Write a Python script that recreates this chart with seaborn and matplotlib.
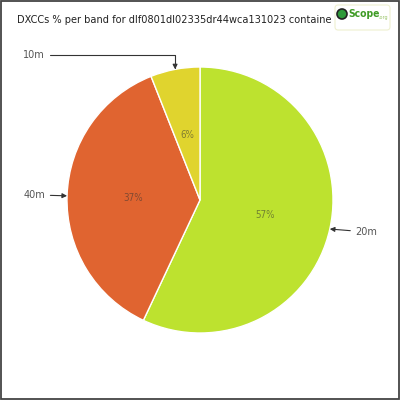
import numpy as np
import matplotlib
matplotlib.use("Agg")
import matplotlib.pyplot as plt
import seaborn as sns
from matplotlib.patches import Rectangle, Circle, FancyBboxPatch

bands = ["20m", "40m", "10m"]
shares = [57, 37, 6]
colors = ["#bde22f", "#e06430", "#e0d42e"]
title = "DXCCs % per band for dlf0801dl02335dr44wca131023 containe"

sns.set_style("white")
plt.rcParams['font.family'] = ['DejaVu Sans']

fig = plt.figure(figsize=(4, 4), dpi=100)
ax = fig.add_axes([0, 0, 1, 1])
R = 133.0

wedges, texts, autotexts = ax.pie(
    shares, colors=colors, startangle=90, counterclock=False,
    autopct='%1.0f%%', pctdistance=0.5, radius=1.0,
    wedgeprops=dict(edgecolor='white', linewidth=1.0),
    textprops=dict(fontsize=7, color='#333333', alpha=0.55,
                   fontstretch='condensed'))
ax.set_xlim(-200 / R, 200 / R)
ax.set_ylim(-200 / R, 200 / R)
ax.set_aspect('equal')
ax.axis('off')

# outside labels with arrows
cum = np.cumsum([0] + shares)
mids = [(cum[i] + cum[i + 1]) / 2 / sum(shares) * 360 for i in range(len(shares))]
label_pos = {"20m": (1.165, -0.24, 'left'), "40m": (-1.16, 0.038, 'right'), "10m": (-1.165, 1.09, 'right')}
for b, m in zip(bands, mids):
    ang = np.deg2rad(90 - m)
    tx, ty = np.cos(ang), np.sin(ang)
    lx, ly, ha = label_pos[b]
    cs = "angle,angleA=0,angleB=90,rad=0" if b == "10m" else "arc3"
    ax.annotate(b, xy=(tx, ty), xytext=(lx, ly), ha=ha, va='center',
                fontsize=7, color='#555555',
                arrowprops=dict(arrowstyle='-|>', color='#333333', lw=0.8,
                                shrinkA=1, shrinkB=0, mutation_scale=7,
                                connectionstyle=cs))

fig.text(17 / 400, 1 - 20 / 400, title, ha='left', va='center', fontsize=7.8,
         color='#222222', fontstretch='condensed')

# logo
logo = FancyBboxPatch((335 / 400, 1 - 30 / 400), 55 / 400, 25 / 400,
                      boxstyle="round,pad=0,rounding_size=0.008",
                      transform=fig.transFigure, facecolor='white',
                      edgecolor='#eef0d0', linewidth=0.8)
fig.patches.append(logo)
fig.patches.append(Circle((342 / 400, 1 - 14 / 400), 5 / 400, transform=fig.transFigure,
                          facecolor='#2f9a3a', edgecolor='#222222', linewidth=1.2))
fig.text(348 / 400, 1 - 14 / 400, "Scope", ha='left', va='center', fontsize=7.5,
         color='#3f9b25', fontweight='bold', fontstretch='condensed')
fig.text(378 / 400, 1 - 17 / 400, ".org", ha='left', va='center', fontsize=3.5,
         color='#9bc56a')

# frame
fig.patches.append(Rectangle((0.002, 0.002), 0.995, 0.995, transform=fig.transFigure,
                             fill=False, edgecolor='#444444', linewidth=1.3))

fig.savefig("out.png", dpi=100)
